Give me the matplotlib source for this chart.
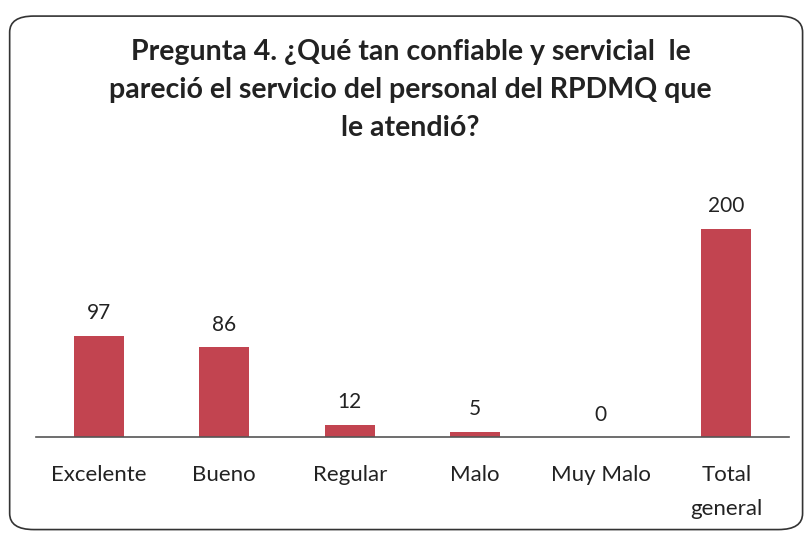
import matplotlib.pyplot as plt
from matplotlib.patches import FancyBboxPatch

categories = ["Excelente", "Bueno", "Regular", "Malo", "Muy Malo", "Total\ngeneral"]
values = [97, 86, 12, 5, 0, 200]
title = ("Pregunta 4. ¿Qué tan confiable y servicial  le\n"
         "pareció el servicio del personal del RPDMQ que\n"
         "le atendió?")

bar_color = '#C24450'
plt.rcParams['font.family'] = ['Lato', 'DejaVu Sans']

fig = plt.figure(figsize=(8.05, 5.36), dpi=100)

# rounded frame around the chart
frame = FancyBboxPatch((0.012, 0.012), 0.985, 0.958,
                       boxstyle="round,pad=0,rounding_size=0.03",
                       transform=fig.transFigure, fill=False,
                       edgecolor='#333333', linewidth=1.2)
fig.patches.append(frame)

ax = fig.add_axes([0.0447, 0.1847, 0.9354, 0.4664])
x = range(len(categories))
bars = ax.bar(x, values, width=0.4, color=bar_color, zorder=2)

for xi, v in zip(x, values):
    ax.text(xi, v + 12, str(v), ha='center', va='bottom', fontsize=15, color='#222222')

ax.set_xlim(-0.5, len(categories) - 0.5)
ax.set_ylim(0, 240)
ax.set_yticks([])
ax.set_xticks(list(x))
ax.set_xticklabels(categories, fontsize=16, color='#222222', linespacing=1.9)
ax.tick_params(axis='x', length=0, pad=20)
for side in ['top', 'right', 'left']:
    ax.spines[side].set_visible(False)
ax.spines['bottom'].set_color('#555555')
ax.spines['bottom'].set_linewidth(1.2)

fig.text(0.51, 0.927, title, ha='center', va='top', fontsize=20.5,
         fontweight='bold', color='#222222', linespacing=1.58)

fig.savefig('out.png', dpi=100)
